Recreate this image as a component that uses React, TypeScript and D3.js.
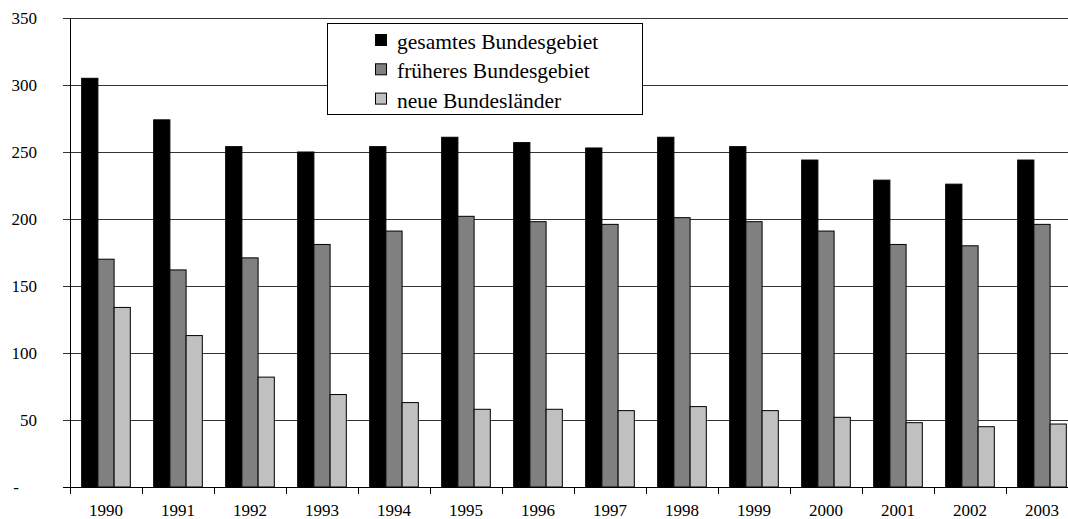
import React, { useEffect, useRef } from 'react';
import * as d3 from 'd3';

const years = ['1990', '1991', '1992', '1993', '1994', '1995', '1996', '1997', '1998', '1999', '2000', '2001', '2002', '2003'];
const seriesNames = ['gesamtes Bundesgebiet', 'früheres Bundesgebiet', 'neue Bundesländer'];
const seriesColors = ['#000000', '#808080', '#c0c0c0'];

const gesamt = [305, 274, 254, 250, 254, 261, 257, 253, 261, 254, 244, 229, 226, 244];
const frueher = [170, 162, 171, 181, 191, 202, 198, 196, 201, 198, 191, 181, 180, 196];
const neue = [134, 113, 82, 69, 63, 58, 58, 57, 60, 57, 52, 48, 45, 47];

const yTicks = [0, 50, 100, 150, 200, 250, 300, 350];

const W = 1068;
const H = 519;
const FONT = '"Liberation Serif", "Times New Roman", serif';

const App: React.FC = () => {
  const svgRef = useRef<SVGSVGElement>(null);

  useEffect(() => {
    if (!svgRef.current) return;
    const svg = d3.select(svgRef.current);
    svg.selectAll('*').remove();

    const left = 70;
    const bandW = 72;
    const values = [gesamt, frueher, neue];

    const x = d3.scaleBand<string>().domain(years).range([left, left + bandW * years.length]).padding(0);
    const inner = d3.scaleBand<string>()
      .domain(seriesNames)
      .range([0, x.bandwidth()])
      .paddingInner(0)
      .paddingOuter(0.72);
    const y = d3.scaleLinear().domain([0, 350]).range([487, 18]);

    // gridlines + y tick labels
    const gridG = svg.append('g');
    gridG.selectAll('line')
      .data(yTicks.filter(t => t > 0))
      .enter()
      .append('line')
      .attr('x1', left - 7)
      .attr('x2', W)
      .attr('y1', d => Math.round(y(d)) + 0.5)
      .attr('y2', d => Math.round(y(d)) + 0.5)
      .attr('stroke', '#333')
      .attr('stroke-width', 1);

    gridG.selectAll('text')
      .data(yTicks)
      .enter()
      .append('text')
      .attr('x', d => (d === 0 ? 16 : 37))
      .attr('y', d => y(d) + 5.5)
      .attr('text-anchor', d => (d === 0 ? 'middle' : 'end'))
      .attr('font-size', 17)
      .attr('fill', '#000')
      .text(d => (d === 0 ? '-' : String(d)));

    // bars
    values.forEach((vals, si) => {
      svg.append('g')
        .selectAll('rect')
        .data(vals)
        .enter()
        .append('rect')
        .attr('x', (_, i) => (x(years[i]) as number) + (inner(seriesNames[si]) as number))
        .attr('y', d => y(d))
        .attr('width', inner.bandwidth())
        .attr('height', d => y(0) - y(d))
        .attr('fill', seriesColors[si])
        .attr('stroke', '#000')
        .attr('stroke-width', 1);
    });

    // axis lines
    svg.append('line')
      .attr('x1', left + 0.5).attr('x2', left + 0.5)
      .attr('y1', y(350)).attr('y2', y(0) + 7)
      .attr('stroke', '#000');
    svg.append('line')
      .attr('x1', left - 7).attr('x2', W)
      .attr('y1', Math.round(y(0)) + 0.5).attr('y2', Math.round(y(0)) + 0.5)
      .attr('stroke', '#000');

    const xAxisG = svg.append('g');
    xAxisG.selectAll('line')
      .data(years.slice(1))
      .enter()
      .append('line')
      .attr('x1', d => Math.round(x(d) as number) + 0.5)
      .attr('x2', d => Math.round(x(d) as number) + 0.5)
      .attr('y1', y(0))
      .attr('y2', y(0) + 7)
      .attr('stroke', '#000');
    xAxisG.selectAll('text')
      .data(years)
      .enter()
      .append('text')
      .attr('x', d => (x(d) as number) + x.bandwidth() / 2)
      .attr('y', 516)
      .attr('text-anchor', 'middle')
      .attr('font-size', 17)
      .attr('fill', '#000')
      .text(d => d);

    // legend
    const lg = svg.append('g');
    lg.append('rect')
      .attr('x', 327.5).attr('y', 23.5)
      .attr('width', 315).attr('height', 91)
      .attr('fill', '#fff')
      .attr('stroke', '#000');
    seriesNames.forEach((name, i) => {
      const rowY = 34 + i * 29.3;
      lg.append('rect')
        .attr('x', 375.5).attr('y', rowY + 0.5)
        .attr('width', 11).attr('height', 11)
        .attr('fill', seriesColors[i])
        .attr('stroke', '#000');
      lg.append('text')
        .attr('x', 397)
        .attr('y', rowY + 15)
        .attr('font-size', 21.5)
        .attr('fill', '#000')
        .text(name);
    });
  }, []);

  return (
    <div style={{ position: 'fixed', left: 0, top: 0, width: W, height: H, background: '#fff' }}>
      <svg ref={svgRef} width={W} height={H} style={{ display: 'block', fontFamily: FONT }} />
    </div>
  );
};

export default App;
